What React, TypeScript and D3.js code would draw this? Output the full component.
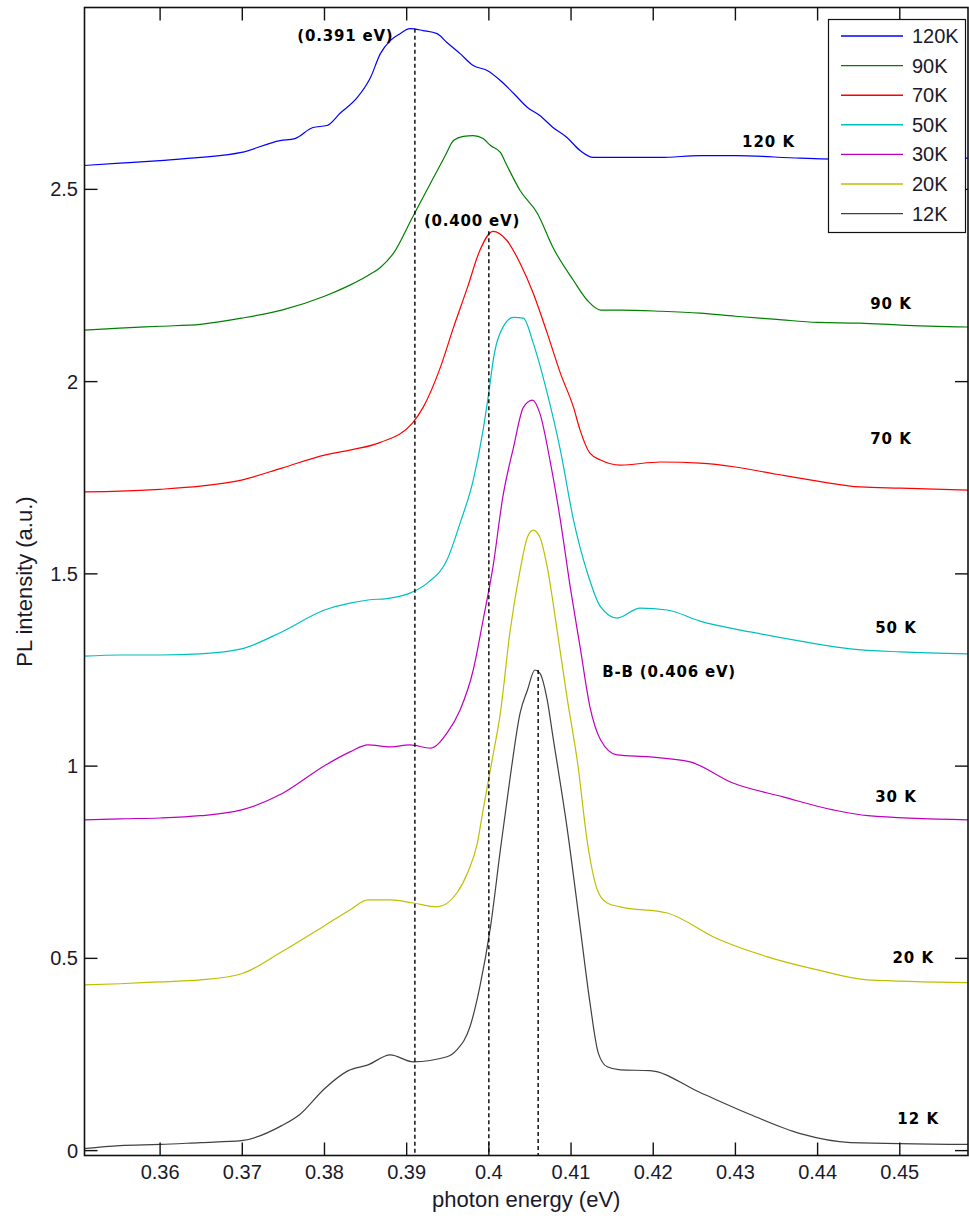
import React from 'react';
import * as d3 from 'd3';

type Pt = [number, number];

// PL spectra: [photon energy (eV), intensity (a.u., vertically offset)]
const spectrum120K: Pt[] = [
  [0.3507, 2.562], [0.3551, 2.568], [0.36, 2.575], [0.3649, 2.583], [0.3699, 2.596],
  [0.3746, 2.627], [0.3764, 2.632], [0.3786, 2.661], [0.3803, 2.666], [0.3819, 2.698],
  [0.384, 2.739], [0.3856, 2.791], [0.3868, 2.853], [0.388, 2.887], [0.3892, 2.905],
  [0.3904, 2.918], [0.392, 2.913], [0.3937, 2.905], [0.3949, 2.882], [0.3965, 2.853],
  [0.3981, 2.822], [0.3998, 2.809], [0.4014, 2.783], [0.403, 2.75], [0.4047, 2.713],
  [0.4062, 2.692], [0.4078, 2.661], [0.4095, 2.635], [0.4111, 2.601], [0.4127, 2.583],
  [0.416, 2.583], [0.4209, 2.583], [0.4257, 2.588], [0.43, 2.588], [0.4379, 2.581],
  [0.444, 2.578], [0.4501, 2.581], [0.4583, 2.581],
];

const spectrum90K: Pt[] = [
  [0.3507, 2.134], [0.3551, 2.139], [0.36, 2.144], [0.3649, 2.149], [0.3699, 2.165],
  [0.3748, 2.186], [0.38, 2.222], [0.3831, 2.251], [0.3853, 2.276], [0.3868, 2.297],
  [0.3884, 2.334], [0.3907, 2.427], [0.3929, 2.516], [0.3947, 2.588], [0.3957, 2.627],
  [0.3969, 2.638], [0.3981, 2.64], [0.3993, 2.632], [0.4002, 2.614], [0.4014, 2.596],
  [0.4022, 2.562], [0.4038, 2.497], [0.4059, 2.438], [0.4078, 2.349], [0.4103, 2.263],
  [0.412, 2.211], [0.4136, 2.186], [0.416, 2.186], [0.4209, 2.183], [0.4257, 2.178],
  [0.43, 2.17], [0.435, 2.162], [0.44, 2.154], [0.4452, 2.152], [0.4501, 2.147],
  [0.4583, 2.142],
];

const spectrum70K: Pt[] = [
  [0.3507, 1.713], [0.3551, 1.715], [0.36, 1.72], [0.3649, 1.728], [0.3699, 1.744],
  [0.3748, 1.775], [0.38, 1.809], [0.3831, 1.822], [0.3868, 1.842], [0.3907, 1.892],
  [0.392, 1.933], [0.3941, 2.037], [0.3957, 2.141], [0.3974, 2.245], [0.3989, 2.341],
  [0.4005, 2.391], [0.4022, 2.367], [0.4038, 2.308], [0.4054, 2.23], [0.4071, 2.126],
  [0.4087, 2.022], [0.4103, 1.933], [0.4111, 1.874], [0.4123, 1.814], [0.4136, 1.796],
  [0.416, 1.783], [0.4209, 1.791], [0.4257, 1.788], [0.43, 1.778], [0.435, 1.759],
  [0.44, 1.741], [0.4452, 1.726], [0.4501, 1.723], [0.4583, 1.718],
];

const spectrum50K: Pt[] = [
  [0.3507, 1.286], [0.3551, 1.289], [0.36, 1.289], [0.3649, 1.292], [0.3699, 1.305],
  [0.3748, 1.349], [0.38, 1.406], [0.3831, 1.424], [0.3853, 1.432], [0.388, 1.437],
  [0.3904, 1.45], [0.3925, 1.476], [0.3949, 1.536], [0.3965, 1.632], [0.3981, 1.744],
  [0.3993, 1.874], [0.4002, 2.004], [0.4004, 2.037], [0.4017, 2.141], [0.403, 2.167],
  [0.4042, 2.165], [0.4054, 2.1], [0.4071, 1.97], [0.4087, 1.822], [0.4103, 1.64],
  [0.412, 1.502], [0.4136, 1.414], [0.4156, 1.385], [0.4184, 1.411], [0.4217, 1.406],
  [0.4257, 1.377], [0.4318, 1.349], [0.4379, 1.325], [0.444, 1.305], [0.4501, 1.297],
  [0.4583, 1.292],
];

const spectrum30K: Pt[] = [
  [0.3507, 0.86], [0.3551, 0.863], [0.36, 0.865], [0.3649, 0.871], [0.3699, 0.886],
  [0.3748, 0.928], [0.38, 1.001], [0.3831, 1.037], [0.3853, 1.055], [0.388, 1.05],
  [0.3904, 1.055], [0.3929, 1.047], [0.3949, 1.086], [0.3965, 1.146], [0.3981, 1.25],
  [0.3993, 1.38], [0.4005, 1.518], [0.4017, 1.7], [0.403, 1.829], [0.4042, 1.933],
  [0.4053, 1.952], [0.4062, 1.918], [0.4075, 1.788], [0.4087, 1.64], [0.4099, 1.466],
  [0.4111, 1.31], [0.4123, 1.154], [0.4136, 1.068], [0.4156, 1.029], [0.4196, 1.024],
  [0.4245, 1.011], [0.4297, 0.956], [0.4358, 0.92], [0.4419, 0.886], [0.4461, 0.871],
  [0.4583, 0.86],
];

const spectrum20K: Pt[] = [
  [0.3507, 0.431], [0.3551, 0.434], [0.36, 0.439], [0.3649, 0.444], [0.3699, 0.46],
  [0.3748, 0.517], [0.38, 0.585], [0.3831, 0.626], [0.3853, 0.652], [0.388, 0.652],
  [0.3908, 0.644], [0.3937, 0.634], [0.3961, 0.67], [0.3974, 0.722], [0.3986, 0.8],
  [0.3993, 0.886], [0.4004, 1.016], [0.4014, 1.138], [0.4026, 1.354], [0.4038, 1.51],
  [0.4047, 1.596], [0.4054, 1.614], [0.4062, 1.596], [0.4071, 1.518], [0.4083, 1.354],
  [0.4095, 1.18], [0.4108, 1.008], [0.412, 0.8], [0.4132, 0.678], [0.4144, 0.644],
  [0.416, 0.634], [0.4217, 0.618], [0.4278, 0.551], [0.4339, 0.504], [0.44, 0.47],
  [0.4461, 0.444], [0.4583, 0.437],
];

const spectrum12K: Pt[] = [
  [0.3507, 0.005], [0.3551, 0.013], [0.36, 0.016], [0.3649, 0.021], [0.3699, 0.026],
  [0.3748, 0.065], [0.377, 0.094], [0.38, 0.161], [0.3829, 0.208], [0.3853, 0.223],
  [0.388, 0.249], [0.3908, 0.231], [0.3949, 0.244], [0.3961, 0.262], [0.3977, 0.322],
  [0.3989, 0.426], [0.4002, 0.582], [0.4014, 0.782], [0.4026, 0.972], [0.4038, 1.138],
  [0.4047, 1.198], [0.4056, 1.25], [0.4062, 1.242], [0.4071, 1.172], [0.4078, 1.076],
  [0.4095, 0.842], [0.4111, 0.582], [0.4123, 0.385], [0.4133, 0.255], [0.4144, 0.218],
  [0.416, 0.21], [0.4196, 0.208], [0.4257, 0.151], [0.4318, 0.094], [0.4379, 0.044],
  [0.444, 0.021], [0.4583, 0.016],
];

const seriesNames = ['120K', '90K', '70K', '50K', '30K', '20K', '12K'];
const seriesData = [spectrum120K, spectrum90K, spectrum70K, spectrum50K, spectrum30K, spectrum20K, spectrum12K];
const seriesColors = ['#0000ff', '#008000', '#ff0000', '#00bfbf', '#bf00bf', '#bfbf00', '#404040'];

// Temperature labels beside each trace, anchored at [energy, intensity]
const traceLabels = ['120 K', '90 K', '70 K', '50 K', '30 K', '20 K', '12 K'];
const traceLabelAnchors: Pt[] = [
  [0.4308, 2.609], [0.4464, 2.188], [0.4464, 1.837], [0.4470, 1.346],
  [0.4470, 0.907], [0.4491, 0.489], [0.4497, 0.07],
];

// Peak markers: energy of the peak and the height the dashed line starts from
const peakLabels = ['(0.391 eV)', '(0.400 eV)', 'B-B (0.406 eV)'];
const peakEnergies = [0.391, 0.4, 0.406];
const peakTops = [2.918, 2.391, 1.25];
const peakLabelAnchors: Pt[] = [[0.3767, 2.885], [0.3921, 2.404], [0.4138, 1.232]];

const xTickValues = [0.36, 0.37, 0.38, 0.39, 0.4, 0.41, 0.42, 0.43, 0.44, 0.45];
const yTickValues = [0, 0.5, 1, 1.5, 2, 2.5];

const W = 969;
const H = 1219;
const left = 84.5;
const right = 968;
const top = 7.5;
const bottom = 1155.5;

const axisFont = "'Liberation Sans', Arial, sans-serif";
const boldFont = "'DejaVu Sans', Verdana, sans-serif";

export default function App() {
  const x = d3.scaleLinear().domain([0.3508, 0.4583]).range([left, right]);
  const y = d3.scaleLinear().domain([-0.0127, 2.973]).range([bottom, top]);
  const line = d3
    .line<Pt>()
    .x((d) => x(d[0]))
    .y((d) => y(d[1]))
    .curve(d3.curveMonotoneX);
  const fmt = d3.format('~g');
  const tickLen = 13;

  const legendX = 828.5;
  const legendY = 19.5;
  const legendW = 137;
  const legendH = 213;
  const rowStep = 29.6;

  return (
    <svg
      width={W}
      height={H}
      viewBox={`0 0 ${W} ${H}`}
      style={{ position: 'absolute', left: 0, top: 0, background: '#fff' }}
    >
      <defs>
        <clipPath id="plotArea">
          <rect x={left} y={top} width={right - left} height={bottom - top} />
        </clipPath>
      </defs>
      <rect x={0} y={0} width={W} height={H} fill="#fff" />

      <g clipPath="url(#plotArea)">
        {seriesData.map((d, i) => (
          <path key={seriesNames[i]} d={line(d) ?? ''} fill="none" stroke={seriesColors[i]} strokeWidth={1.2} />
        ))}
        {peakEnergies.map((e, i) => (
          <line
            key={`peak${i}`}
            x1={x(e)}
            x2={x(e)}
            y1={y(peakTops[i])}
            y2={bottom}
            stroke="#000"
            strokeWidth={1.4}
            strokeDasharray="4,3"
          />
        ))}
      </g>

      {/* frame */}
      <rect x={left} y={top} width={right - left} height={bottom - top} fill="none" stroke="#111" strokeWidth={1.6} />

      {/* x ticks, mirrored on top */}
      {xTickValues.map((t) => (
        <g key={`xt${t}`}>
          <line x1={x(t)} x2={x(t)} y1={bottom} y2={bottom - tickLen} stroke="#111" strokeWidth={1.4} />
          <line x1={x(t)} x2={x(t)} y1={top} y2={top + tickLen} stroke="#111" strokeWidth={1.4} />
          <text x={x(t)} y={1179} textAnchor="middle" fontFamily={axisFont} fontSize={20} fill="#1a1a2a">
            {fmt(t)}
          </text>
        </g>
      ))}

      {/* y ticks, mirrored on right */}
      {yTickValues.map((t) => (
        <g key={`yt${t}`}>
          <line x1={left} x2={left + tickLen} y1={y(t)} y2={y(t)} stroke="#111" strokeWidth={1.4} />
          <line x1={right} x2={right - tickLen} y1={y(t)} y2={y(t)} stroke="#111" strokeWidth={1.4} />
          <text x={78} y={y(t) + 7} textAnchor="end" fontFamily={axisFont} fontSize={20} fill="#1a1a2a">
            {fmt(t)}
          </text>
        </g>
      ))}

      <text x={(left + right) / 2} y={1207} textAnchor="middle" fontFamily={axisFont} fontSize={22} fill="#1a1a2a">
        photon energy (eV)
      </text>
      <text
        transform={`translate(32, ${y(1.48)}) rotate(-90)`}
        textAnchor="middle"
        fontFamily={axisFont}
        fontSize={22}
        fill="#1a1a2a"
      >
        PL intensity (a.u.)
      </text>

      {/* trace labels */}
      {traceLabels.map((t, i) => (
        <text
          key={t}
          x={x(traceLabelAnchors[i][0])}
          y={y(traceLabelAnchors[i][1])}
          fontFamily={boldFont}
          fontWeight="bold"
          fontSize={15}
          letterSpacing={1}
          fill="#000"
        >
          {t}
        </text>
      ))}

      {/* peak labels */}
      {peakLabels.map((t, i) => (
        <text
          key={t}
          x={x(peakLabelAnchors[i][0])}
          y={y(peakLabelAnchors[i][1])}
          fontFamily={boldFont}
          fontWeight="bold"
          fontSize={15}
          letterSpacing={0.8}
          fill="#000"
        >
          {t}
        </text>
      ))}

      {/* legend */}
      <g>
        <rect x={legendX} y={legendY} width={legendW} height={legendH} fill="#fff" stroke="#111" strokeWidth={1.2} />
        {seriesNames.map((n, i) => {
          const ry = 36 + i * rowStep;
          return (
            <g key={`lg${n}`}>
              <line x1={841} x2={903} y1={ry} y2={ry} stroke={seriesColors[i]} strokeWidth={1.4} />
              <text x={912} y={ry + 7} fontFamily={axisFont} fontSize={20} fill="#1a1a2a">
                {n}
              </text>
            </g>
          );
        })}
      </g>
    </svg>
  );
}
